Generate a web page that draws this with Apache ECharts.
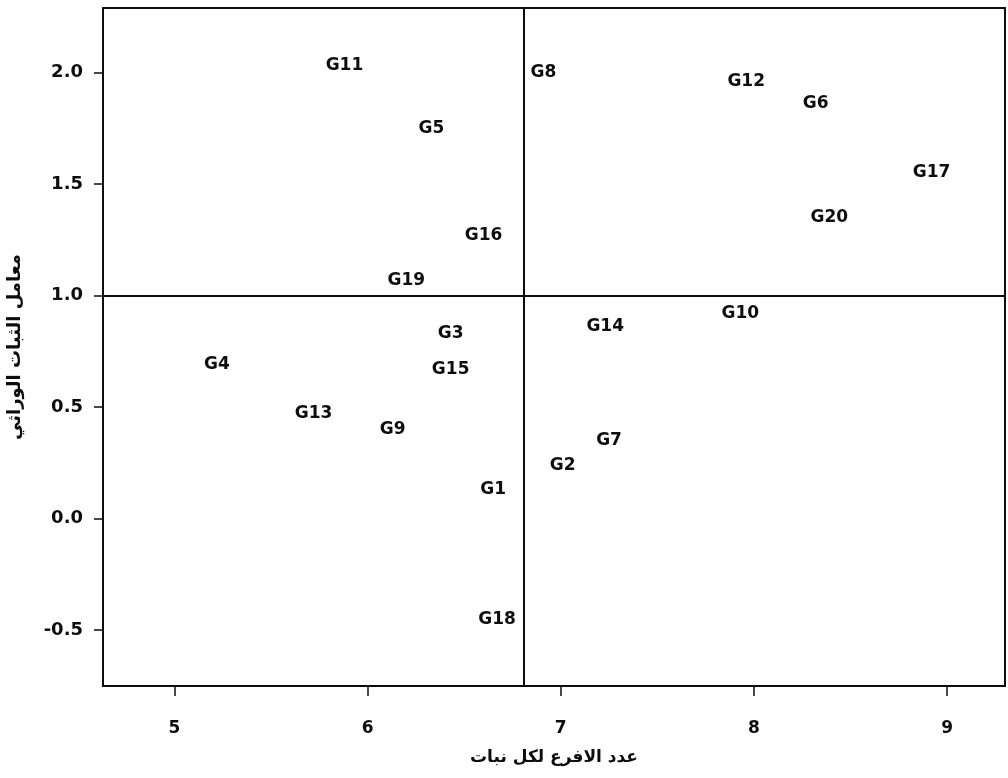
<!DOCTYPE html>
<html>
<head>
<meta charset="utf-8">
<script src="https://cdn.jsdelivr.net/npm/echarts@6/dist/echarts.min.js"></script>
<style>
  html, body { margin: 0; padding: 0; background: #fff; }
  #chart { width: 1008px; height: 778px; }
</style>
</head>
<body>
<div id="chart"></div>
<script>
// Genotype labels and their coordinates (branches per plant, genetic stability coefficient)
const genotypes = ['G11','G8','G12','G6','G5','G17','G16','G20','G19','G10',
                   'G3','G14','G4','G15','G13','G9','G7','G2','G1','G18'];
const branches  = [5.88, 6.91, 7.96, 8.32, 6.33, 8.92, 6.60, 8.39, 6.20, 7.93,
                   6.43, 7.23, 5.22, 6.43, 5.72, 6.13, 7.25, 7.01, 6.65, 6.67];
const stability = [2.03, 2.00, 1.96, 1.86, 1.75, 1.55, 1.27, 1.35, 1.07, 0.92,
                   0.83, 0.86, 0.69, 0.67, 0.47, 0.40, 0.35, 0.24, 0.13, -0.45];

// Quadrant dividers
const branchDivider = 6.81;
const stabilityDivider = 1.0;

const xTicks = [5, 6, 7, 8, 9];
const yTicks = [-0.5, 0.0, 0.5, 1.0, 1.5, 2.0];

const points = genotypes.map((g, i) => [branches[i], stability[i], g]);

const chart = echarts.init(document.getElementById('chart'));
const font = 'DejaVu Sans, Liberation Sans, sans-serif';
const ink = '#0d0d0d';

chart.setOption({
  backgroundColor: '#fff',
  animation: false,
  grid: {
    left: 103, right: 3, top: 8, bottom: 92,
    outerBoundsMode: 'none',
    show: true, borderColor: ink, borderWidth: 2, backgroundColor: 'transparent'
  },
  xAxis: {
    type: 'value', min: 4.63, max: 9.3,
    name: 'عدد الافرع لكل نبات', nameLocation: 'middle', nameGap: 63,
    nameTextStyle: { fontFamily: font, fontSize: 17, fontWeight: 'bold', color: ink },
    splitLine: { show: false },
    axisLine: { show: true, onZero: false, lineStyle: { color: ink, width: 2 } },
    axisTick: { show: true, length: 10, lineStyle: { color: ink, width: 1.5 }, customValues: xTicks },
    axisLabel: { customValues: xTicks, margin: 34, fontFamily: font, fontSize: 17, fontWeight: 'bold', color: ink,
                 formatter: v => String(v) }
  },
  yAxis: {
    type: 'value', min: -0.75, max: 2.29,
    name: 'معامل الثبات الوراثي', nameLocation: 'middle', nameRotate: 90, nameGap: 79,
    nameTextStyle: { fontFamily: font, fontSize: 18, fontWeight: 'bold', color: ink },
    splitLine: { show: false },
    axisLine: { show: true, onZero: false, lineStyle: { color: ink, width: 2 } },
    axisTick: { show: true, length: 9, lineStyle: { color: ink, width: 1.5 }, customValues: yTicks },
    axisLabel: { customValues: yTicks, margin: 20, fontFamily: font, fontSize: 18, fontWeight: 'bold', color: ink,
                 formatter: v => v.toFixed(1) }
  },
  series: [{
    type: 'scatter',
    data: points,
    symbolSize: 0,
    itemStyle: { opacity: 1 },
    label: {
      show: true, position: 'inside',
      formatter: p => p.data[2],
      fontFamily: font, fontSize: 17, fontWeight: 'bold', color: ink
    },
    markLine: {
      silent: true, symbol: 'none', label: { show: false },
      lineStyle: { color: ink, width: 2, type: 'solid', opacity: 1 },
      data: [{ xAxis: branchDivider }, { yAxis: stabilityDivider }]
    }
  }]
});
</script>
</body>
</html>
